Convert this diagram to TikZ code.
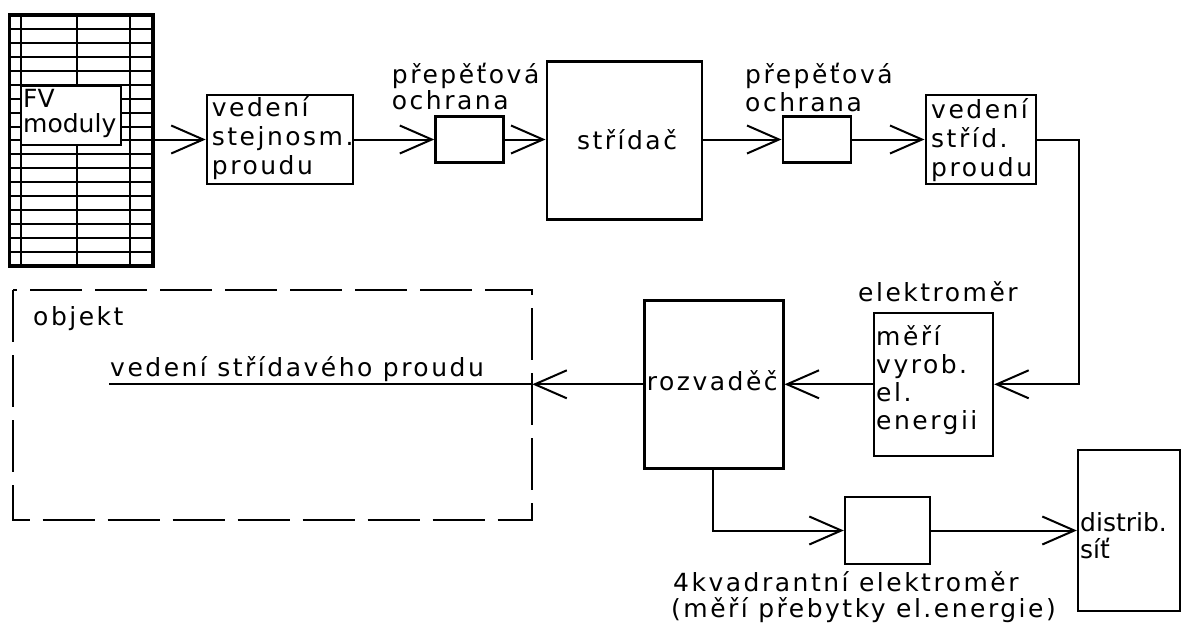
\documentclass[tikz,border=0pt]{standalone}
\usepackage{fontspec}
\setmainfont{DejaVu Sans}[LetterSpace=10]
\newfontfamily\tightfont{DejaVu Sans}[LetterSpace=0]
\usetikzlibrary{arrows.meta}
\tikzset{
  blk/.style={draw, line width=2.4pt, fill=white, inner sep=0pt},
  conn/.style={line width=2pt},
  arr/.style={conn, -{Straight Barb[length=32pt,width=28pt,line width=2pt]}},
  txt/.style={anchor=base west, inner sep=0pt, font=\fontsize{25}{30}\selectfont},
  txtt/.style={anchor=base west, inner sep=0pt, font=\tightfont\fontsize{25}{30}\selectfont},
  txtc/.style={anchor=base, inner sep=0pt, font=\fontsize{25}{30}\selectfont},
  gridline/.style={line width=2pt},
  objbox/.style={line width=2.2pt, dash pattern=on 52pt off 13pt}
}
\begin{document}
\begin{tikzpicture}[x=1pt,y=-1pt]
\useasboundingbox (0,0) rectangle (1182,624);
\fill[white] (0,0) rectangle (1182,624);

% PV panel grid
\foreach \k in {1,...,17}{
  \draw[gridline] (9.3,{15+\k*13.94}) -- (152.7,{15+\k*13.94});
}
\foreach \xx in {20.7,76.7,130}{
  \draw[gridline] (\xx,15) -- (\xx,266);
}
\draw[line width=3.6pt] (9.3,15) rectangle (152.7,266);

% boxes
\node[blk, minimum width=100pt, minimum height=59pt] (fv) at (70.7,115.5) {};
\node[blk, minimum width=146pt, minimum height=89pt] (dc) at (279.9,139.5) {};
\node[blk, minimum width=68pt, minimum height=46pt] (spa) at (469.5,139.5) {};
\node[blk, minimum width=155pt, minimum height=158pt] (inv) at (624.2,140.5) {};
\node[blk, minimum width=68pt, minimum height=46pt] (spb) at (816.7,139.5) {};
\node[blk, minimum width=110pt, minimum height=89pt] (ac) at (980.7,139.5) {};
\node[blk, minimum width=119pt, minimum height=143pt] (meter) at (933.5,384.3) {};
\node[blk, minimum width=139pt, minimum height=168pt] (dist) at (713.8,384.6) {};
\node[blk, minimum width=85pt, minimum height=67pt] (mq) at (887.5,530.5) {};
\node[blk, minimum width=102pt, minimum height=161pt] (grid) at (1129,530.5) {};

% object (dashed)
\draw[objbox] (12.7,290) rectangle (532.3,520);
\coordinate (objE) at (532.3,384.3);
\coordinate (lineW) at (109,384.3);
\coordinate (turn) at (1079,139.5);

% connectors
\draw[arr] (dc.west -| fv.east) -- (dc.west);
\draw[arr] (dc.east) -- (spa.west);
\draw[arr] (spa.east) -- (inv.west |- spa.east);
\draw[arr] (inv.east |- spb.west) -- (spb.west);
\draw[arr] (spb.east) -- (ac.west);
\draw[arr] (ac.east) -- (turn) |- (meter.east);
\draw[arr] (meter.west) -- (dist.east |- meter.west);
\draw[arr] (dist.west |- objE) -- (objE);
\draw[conn] (objE) -- (lineW);
\draw[arr] (dist.south -| 713,0) |- (mq.west);
\draw[arr] (mq.east) -- (grid.west);

% texts
\node[txtt] (t1) at (23,107) {FV};
\node[txtt] (t2) at (23,132) {moduly};
\node[txt] (t3) at (211.7,116) {vedení};
\node[txt] (t4) at (211.7,145) {stejnosm.};
\node[txt] (t5) at (211.7,174) {proudu};
\node[txt] (t6) at (391.7,83) {přepěťová};
\node[txt] (t7) at (391.7,109) {ochrana};
\node[txtc] (t8) at (627,149) {střídač};
\node[txt] (t9) at (745,83) {přepěťová};
\node[txt] (t10) at (745,111) {ochrana};
\node[txt] (t11) at (931,118) {vedení};
\node[txt] (t12) at (931,147) {stříd.};
\node[txt] (t13) at (931,176) {proudu};
\node[txt] (t14) at (858,301.7) {elektroměr};
\node[txt] (t15) at (876,345) {měří};
\node[txt] (t16) at (876,373) {vyrob.};
\node[txt] (t17) at (876,401) {el.};
\node[txt] (t18) at (876,429) {energii};
\node[txt] (t19) at (646.7,390) {rozvaděč};
\node[txt] (t20) at (33,325) {objekt};
\node[txt] (t21) at (110,376.7) {vedení střídavého proudu};
\node[txtt] (t22) at (1080,531.7) {distrib.};
\node[txtt] (t23) at (1080,558) {síť};
\node[txt] (t24) at (673,591) {4kvadrantní elektroměr};
\node[txt] (t25) at (671,617) {(měří přebytky el.energie)};
\end{tikzpicture}
\end{document}
